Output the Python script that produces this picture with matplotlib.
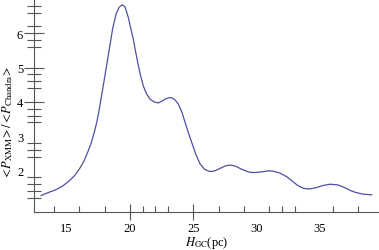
import matplotlib
matplotlib.use('Agg')
import matplotlib.pyplot as plt
import numpy as np

# curve
h_gc = [12.98, 13.5, 14.16, 14.7, 15.21, 15.6, 16.0, 16.35, 16.66, 16.95,
        17.18, 17.4, 17.58, 17.85, 18.11, 18.37, 18.63, 18.9, 19.15, 19.37,
        19.6, 19.87, 20.1, 20.26, 20.45, 20.66, 20.85, 21.05, 21.3, 21.58,
        21.9, 22.24, 22.5, 22.76, 23.05, 23.29, 23.55, 23.81, 24.1, 24.34,
        24.6, 24.87, 25.2, 25.53, 25.9, 26.31, 26.7, 27.1, 27.5, 27.9,
        28.3, 28.68, 29.05, 29.42, 29.8, 30.4, 30.9, 31.3, 31.8, 32.37,
        32.8, 33.25, 33.7, 34.1, 34.6, 35.2, 35.79, 36.4, 36.9, 37.37,
        37.8, 38.4, 39.08]
ratio = [1.27, 1.35, 1.44, 1.55, 1.70, 1.84, 2.04, 2.26, 2.53, 2.81,
         3.11, 3.44, 3.79, 4.38, 4.96, 5.54, 6.13, 6.56, 6.76, 6.83,
         6.78, 6.46, 6.08, 5.83, 5.45, 5.06, 4.74, 4.47, 4.24, 4.08,
         4.00, 3.97, 4.02, 4.08, 4.12, 4.12, 4.06, 3.94, 3.70, 3.41,
         3.11, 2.82, 2.47, 2.19, 2.03, 1.97, 1.99, 2.06, 2.13, 2.16,
         2.13, 2.06, 2.00, 1.95, 1.94, 1.96, 1.99, 1.98, 1.93, 1.82,
         1.69, 1.56, 1.48, 1.46, 1.49, 1.56, 1.60, 1.58, 1.51, 1.42,
         1.36, 1.31, 1.29]

x_labels = [15, 20, 25, 30, 35]
x_long = [20, 25]
x_minor = [14, 16, 18, 21, 22, 23, 27, 29, 31, 32, 33, 36, 38]
y_labels = [2, 3, 4, 5, 6]
y_long = [4, 5, 6]
y_minor = [1.2, 1.4, 1.6, 1.8, 2.4, 2.6, 2.8, 3.4, 3.6, 3.8,
           4.4, 4.6, 4.8, 5.6, 5.8, 6.2, 6.6, 6.8]

plt.rcParams['mathtext.fontset'] = 'stix'
plt.rcParams['font.family'] = ['Liberation Serif', 'DejaVu Serif']

fig = plt.figure(figsize=(3.79, 2.51), dpi=100)
ax = fig.add_axes([34.3 / 379, 38 / 251, 1 - 34.3 / 379, 213 / 251])

ax.plot(h_gc, ratio, color='#4f4fa6', lw=0.9)

ax.set_xlim(12.45, 39.65)
ax.set_ylim(0.79, 7.0)

for s in ['top', 'right']:
    ax.spines[s].set_visible(False)
for s in ['left', 'bottom']:
    ax.spines[s].set_color('#555555')
    ax.spines[s].set_linewidth(0.8)

ax.set_xticks(x_labels)
ax.set_xticklabels([str(v) for v in x_labels], fontsize=9)
ax.set_xticks(x_minor, minor=True)
ax.set_yticks(y_labels)
ax.set_yticklabels([str(v) for v in y_labels], fontsize=9)
ax.set_yticks(y_minor, minor=True)

ax.tick_params(axis='x', which='major', direction='inout', length=12,
               width=0.8, color='#555555', pad=1)
ax.tick_params(axis='x', which='minor', direction='in', length=4,
               width=0.8, color='#555555')
ax.tick_params(axis='y', which='major', direction='inout', length=14,
               width=0.8, color='#555555', pad=1)
ax.tick_params(axis='y', which='minor', direction='inout', length=10,
               width=0.8, color='#555555')

# labelled positions without a drawn tick
for t, v in zip(ax.xaxis.get_major_ticks(), x_labels):
    if v not in x_long:
        t.tick1line.set_visible(False)
for t, v in zip(ax.yaxis.get_major_ticks(), y_labels):
    if v not in y_long:
        t.tick1line.set_visible(False)

fig.text(207 / 379, 1 - 243 / 251, r'$H_{\rm GC}$(pc)', fontsize=9,
         ha='center', va='center')
fig.text(8 / 379, 1 - 122 / 251,
         r'$<\!P_{\rm XMM}\!>/<\!P_{\rm Chandra}\!>$', fontsize=9,
         rotation=90, ha='center', va='center')

fig.savefig('out.png', dpi=100)
